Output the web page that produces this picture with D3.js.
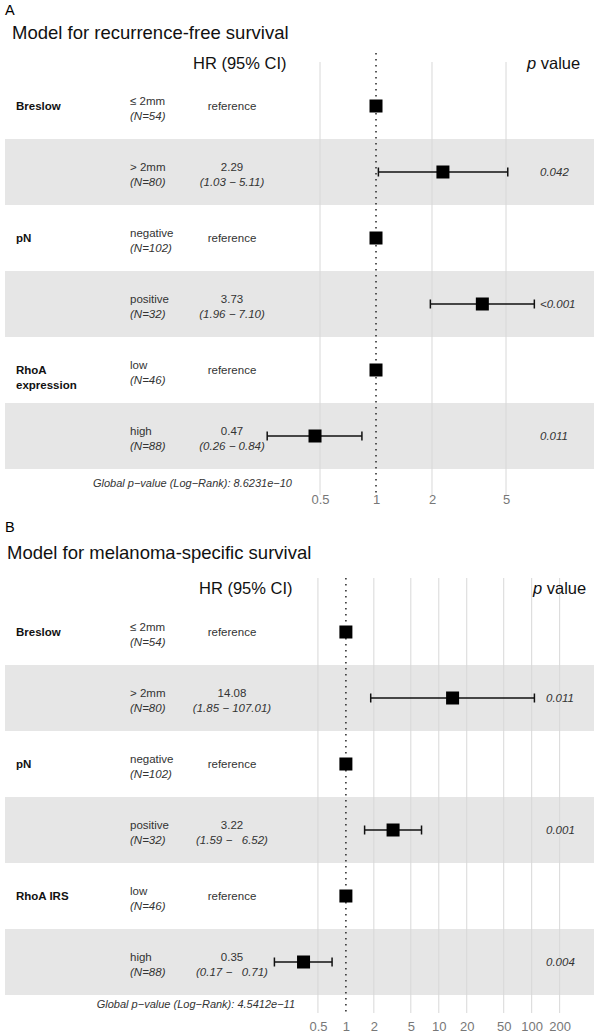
<!DOCTYPE html>
<html>
<head>
<meta charset="utf-8">
<script src="https://d3js.org/d3.v7.min.js"></script>
<style>
  body { margin: 0; background: #fff; }
  text { font-family: "Liberation Sans", Arial, sans-serif; }
</style>
</head>
<body>
<svg id="chart" width="600" height="1035"></svg>
<script>
// ---- data ----
var panelLetters = ["A", "B"];
var panelTitles = ["Model for recurrence-free survival", "Model for melanoma-specific survival"];
var categories = ["\u2264 2mm", "> 2mm", "negative", "positive", "low", "high"];
var counts = [54, 80, 102, 32, 46, 88];
var variablesA = [["Breslow"], ["pN"], ["RhoA", "expression"]];
var variablesB = [["Breslow"], ["pN"], ["RhoA IRS"]];

var hrA = [1, 2.29, 1, 3.73, 1, 0.47];
var lowerA = [null, 1.03, null, 1.96, null, 0.26];
var upperA = [null, 5.11, null, 7.10, null, 0.84];
var pA = [null, "0.042", null, "<0.001", null, "0.011"];

var hrB = [1, 14.08, 1, 3.22, 1, 0.35];
var lowerB = [null, 1.85, null, 1.59, null, 0.17];
var upperB = [null, 107.01, null, 6.52, null, 0.71];
var pB = [null, "0.011", null, "0.001", null, "0.004"];

var ticksA = [0.5, 1, 2, 5];
var ticksB = [0.5, 1, 2, 5, 10, 20, 50, 100, 200];
var globalP = ["8.6231e\u221210", "4.5412e\u221211"];

// ---- layout ----
var panels = [
  { top: 0, vars: variablesA, hr: hrA, lo: lowerA, hi: upperA, p: pA, ticks: ticksA,
    domain: [0.2, 10], range: [246, 562], rows: [73, 469], gridTop: 62, gridBot: 495,
    dotTop: 53, dotBot: 493, tickY: 500, titleY: 33, titleX: 12, letterY: 10,
    headY: 63, hrHeadX: 193, pHeadX: 527, pX: 540, globalY: 483, globalX: 292 },
  { top: 0, vars: variablesB, hr: hrB, lo: lowerB, hi: upperB, p: pB, ticks: ticksB,
    domain: [0.1, 300], range: [253, 576], rows: [599, 995], gridTop: 578, gridBot: 1013,
    dotTop: 578, dotBot: 1015, tickY: 1027, titleY: 553, titleX: 7, letterY: 527,
    headY: 588, hrHeadX: 199, pHeadX: 533, pX: 546, globalY: 1004, globalX: 295 }
];

var svg = d3.select("#chart");

panels.forEach(function (P, pi) {
  var g = svg.append("g");
  var x = d3.scaleLog().domain(P.domain).range(P.range);
  var y = d3.scaleBand().domain(d3.range(categories.length)).range(P.rows);
  var cy = function (i) { return y(i) + y.bandwidth() / 2; };

  // shaded bands
  g.selectAll("rect.band").data(d3.range(categories.length).filter(function (i) { return i % 2 === 1; }))
    .enter().append("rect")
    .attr("x", 5).attr("width", 589)
    .attr("y", function (i) { return y(i); })
    .attr("height", y.bandwidth())
    .attr("fill", "#e6e6e6");

  // grid lines
  g.selectAll("line.grid").data(P.ticks.filter(function (t) { return t !== 1; }))
    .enter().append("line")
    .attr("x1", function (t) { return x(t); }).attr("x2", function (t) { return x(t); })
    .attr("y1", P.gridTop).attr("y2", P.gridBot)
    .attr("stroke", "#d8d8d8").attr("stroke-width", 1);

  // reference dotted line
  g.append("line")
    .attr("x1", x(1)).attr("x2", x(1))
    .attr("y1", P.dotTop).attr("y2", P.dotBot)
    .attr("stroke", "#333").attr("stroke-width", 1.6)
    .attr("stroke-dasharray", "1.6,4.4");

  // axis tick labels
  var axis = d3.axisBottom(x).tickValues(P.ticks).tickFormat(d3.format("~g")).tickSize(0);
  var ax = g.append("g").attr("transform", "translate(0," + (P.tickY - 8) + ")").call(axis);
  ax.select(".domain").remove();
  ax.selectAll("text").attr("font-size", 13).attr("fill", "#777")
    .attr("font-family", "Liberation Sans, Arial, sans-serif");

  // titles
  g.append("text").attr("x", 5).attr("y", P.letterY).attr("dy", "0.35em")
    .attr("font-size", 14.5).text(panelLetters[pi]);
  g.append("text").attr("x", P.titleX).attr("y", P.titleY).attr("dy", "0.35em")
    .attr("font-size", 18.5).attr("fill", "#111").text(panelTitles[pi]);
  g.append("text").attr("x", P.hrHeadX).attr("y", P.headY).attr("dy", "0.35em")
    .attr("font-size", 16.5).attr("fill", "#111").text("HR (95% CI)");
  var ph = g.append("text").attr("x", P.pHeadX).attr("y", P.headY).attr("dy", "0.35em")
    .attr("font-size", 16.5).attr("fill", "#111");
  ph.append("tspan").attr("font-style", "italic").text("p");
  ph.append("tspan").text(" value");

  // variable labels
  P.vars.forEach(function (lines, vi) {
    var t = g.append("text").attr("x", 16).attr("y", cy(vi * 2)).attr("dy", "0.35em")
      .attr("font-size", 11.5).attr("font-weight", "bold").attr("fill", "#111");
    lines.forEach(function (l, li) {
      t.append("tspan").attr("x", 16).attr("dy", li === 0 ? "0.35em" : "1.3em").text(l);
    });
  });

  // category + N
  var widest = d3.max(P.hi.filter(function (v) { return v != null; }), function (v) { return v.toFixed(2).length; });
  categories.forEach(function (c, i) {
    var c0 = cy(i);
    g.append("text").attr("x", 130).attr("y", c0 - 5).attr("dy", "0.35em")
      .attr("font-size", 11.5).attr("fill", "#333").text(c);
    g.append("text").attr("x", 130).attr("y", c0 + 10).attr("dy", "0.35em")
      .attr("font-size", 11.5).attr("font-style", "italic").attr("fill", "#333")
      .text("(N=" + counts[i] + ")");

    if (P.lo[i] == null) {
      g.append("text").attr("x", 232).attr("y", c0).attr("dy", "0.35em")
        .attr("text-anchor", "middle").attr("font-size", 11.5).attr("fill", "#333")
        .text("reference");
    } else {
      g.append("text").attr("x", 232).attr("y", c0 - 5).attr("dy", "0.35em")
        .attr("text-anchor", "middle").attr("font-size", 11.5).attr("fill", "#333")
        .text(P.hr[i].toFixed(2));
      var hiStr = P.hi[i].toFixed(2);
      while (hiStr.length < widest) hiStr = "  " + hiStr;
      g.append("text").attr("x", 232).attr("y", c0 + 10).attr("dy", "0.35em")
        .attr("text-anchor", "middle").attr("font-size", 11.5).attr("font-style", "italic")
        .attr("fill", "#333").style("white-space", "pre")
        .text("(" + P.lo[i].toFixed(2) + " \u2212 " + hiStr + ")");

      // CI whisker
      g.append("line").attr("x1", x(P.lo[i])).attr("x2", x(P.hi[i]))
        .attr("y1", c0).attr("y2", c0).attr("stroke", "#111").attr("stroke-width", 1.5);
      [P.lo[i], P.hi[i]].forEach(function (v) {
        g.append("line").attr("x1", x(v)).attr("x2", x(v))
          .attr("y1", c0 - 4.5).attr("y2", c0 + 4.5)
          .attr("stroke", "#111").attr("stroke-width", 1.5);
      });
      g.append("text").attr("x", P.pX).attr("y", c0).attr("dy", "0.35em")
        .attr("font-size", 11.5).attr("font-style", "italic").attr("fill", "#333")
        .text(P.p[i]);
    }
    // point estimate
    g.append("rect").attr("x", x(P.hr[i]) - 6.5).attr("y", c0 - 6.5)
      .attr("width", 13).attr("height", 13).attr("fill", "#000");
  });

  // global p-value
  g.append("text").attr("x", P.globalX).attr("y", P.globalY).attr("dy", "0.35em")
    .attr("text-anchor", "end").attr("font-size", 11).attr("font-style", "italic")
    .attr("fill", "#333")
    .text("Global p\u2212value (Log\u2212Rank): " + globalP[pi]);
});
</script>
</body>
</html>
